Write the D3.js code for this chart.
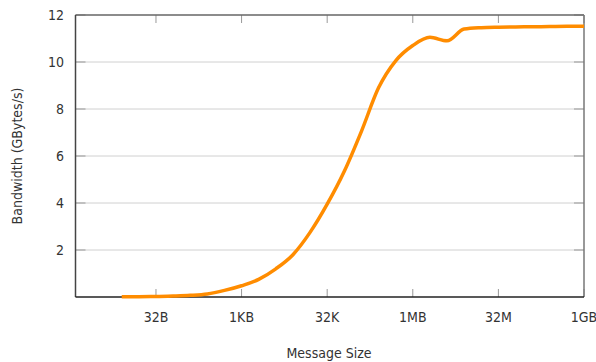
<!DOCTYPE html>
<html><head><meta charset="utf-8">
<script src="https://cdn.jsdelivr.net/npm/d3@7"></script>
<style>
body{margin:0;background:#fff;}
text{font-family:"Liberation Sans Narrow","DejaVu Sans Condensed",sans-serif;fill:#333;}
</style></head>
<body><svg id="c" width="596" height="362"></svg>
<script>
// log2 of message size (bytes)
const sizeExp = [3,4,5,6,7,8,9,10,11,12,13,14,15,16,17,18,19,20,21,22,23,24,25,26,27,28,29,30];
// bandwidth GBytes/s
const bandwidth = [0.01,0.015,0.02,0.04,0.07,0.13,0.28,0.48,0.75,1.2,1.8,2.75,3.95,5.35,7.05,8.9,10.05,10.7,11.05,10.9,11.4,11.46,11.48,11.49,11.5,11.51,11.52,11.52];
const xTickExp = [5,10,15,20,25,30];
const xTickLabels = ["32B","1KB","32K","1MB","32M","1GB"];
const yTicks = [2,4,6,8,10,12];

const svg = d3.select("#c");
const m = {l:75.5, r:584, t:15, b:297};
const x = d3.scaleLinear().domain([0.3,30]).range([m.l,m.r]);
const y = d3.scaleLinear().domain([0,12]).range([m.b,m.t]);

// gridlines
svg.append("g").selectAll("line").data(yTicks.filter(d=>d<12)).join("line")
  .attr("x1",m.l).attr("x2",m.r).attr("y1",d=>y(d)).attr("y2",d=>y(d))
  .attr("stroke","#d0d0d0").attr("stroke-width",1);

// inner ticks
const tk = svg.append("g").attr("stroke","#999").attr("stroke-width",1);
tk.selectAll(".yl").data(yTicks).join("line")
  .attr("x1",m.l).attr("x2",m.l+10).attr("y1",d=>y(d)).attr("y2",d=>y(d));
tk.selectAll(".yr").data(yTicks).join("line")
  .attr("x1",m.r-10).attr("x2",m.r).attr("y1",d=>y(d)).attr("y2",d=>y(d));
tk.selectAll(".xb").data(xTickExp).join("line")
  .attr("x1",d=>x(d)).attr("x2",d=>x(d)).attr("y1",m.b).attr("y2",m.b-8);
tk.selectAll(".xt").data(xTickExp).join("line")
  .attr("x1",d=>x(d)).attr("x2",d=>x(d)).attr("y1",m.t).attr("y2",m.t+8);

// frame
svg.append("line").attr("x1",m.l).attr("x2",m.r).attr("y1",m.t).attr("y2",m.t).attr("stroke","#666").attr("stroke-width",1.5);
svg.append("line").attr("x1",m.r).attr("x2",m.r).attr("y1",m.t).attr("y2",m.b).attr("stroke","#777").attr("stroke-width",1.5);
svg.append("line").attr("x1",m.l).attr("x2",m.l).attr("y1",m.t).attr("y2",m.b).attr("stroke","#444").attr("stroke-width",1.5);
svg.append("line").attr("x1",m.l).attr("x2",m.r).attr("y1",m.b).attr("y2",m.b).attr("stroke","#222").attr("stroke-width",1.5);

// line
const pts = sizeExp.map((e,i)=>[e,bandwidth[i]]);
svg.append("path").datum(pts)
  .attr("d",d3.line().x(d=>x(d[0])).y(d=>y(d[1])).curve(d3.curveMonotoneX))
  .attr("fill","none").attr("stroke","#ff8c00").attr("stroke-width",3.5).attr("stroke-linejoin","round");

// tick labels
svg.append("g").selectAll("text").data(yTicks).join("text")
  .attr("x",64).attr("y",d=>y(d)).attr("dy","0.35em").attr("text-anchor","end")
  .attr("font-size",14).text(d=>d);
svg.append("g").selectAll("text").data(xTickExp).join("text")
  .attr("x",d=>x(d)).attr("y",322).attr("text-anchor","middle")
  .attr("font-size",14).text((d,i)=>xTickLabels[i]);

// axis titles
svg.append("text").attr("x",329).attr("y",358).attr("text-anchor","middle").attr("font-size",14).text("Message Size");
svg.append("text").attr("transform","translate(22,156) rotate(-90)").attr("text-anchor","middle").attr("font-size",14).text("Bandwidth (GBytes/s)");
</script></body></html>
